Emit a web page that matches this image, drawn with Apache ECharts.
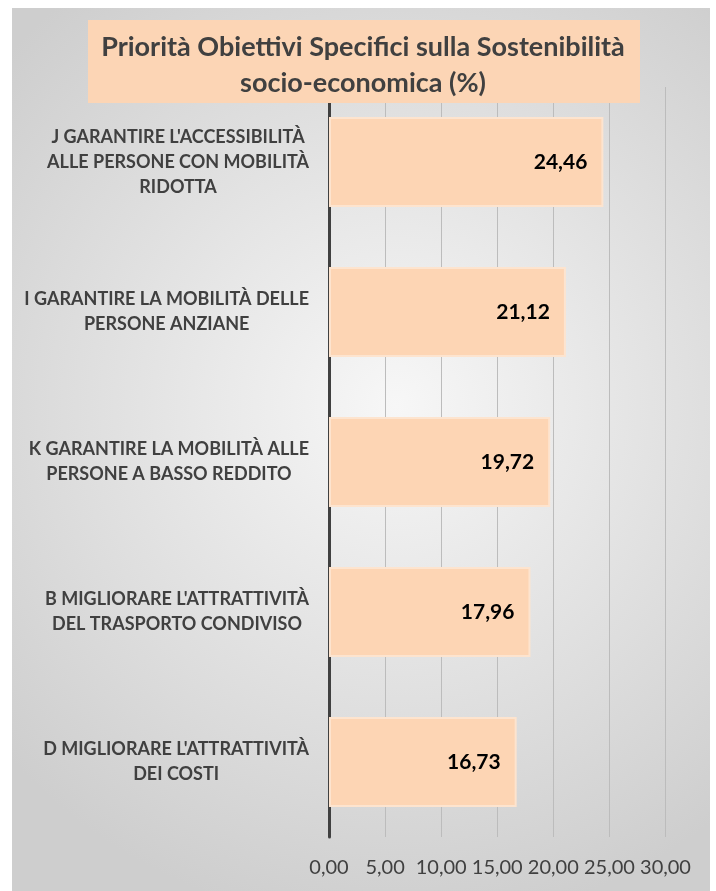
<!DOCTYPE html>
<html>
<head>
<meta charset="utf-8">
<script src="https://cdn.jsdelivr.net/npm/echarts@6/dist/echarts.min.js"></script>
<style>
  html, body { margin: 0; padding: 0; background: #fff; }
  #chart { width: 716px; height: 891px; }
</style>
</head>
<body>
<div id="chart"></div>
<script>
// dati del grafico
var categorie = [
    "J GARANTIRE L'ACCESSIBILITÀ\nALLE PERSONE CON MOBILITÀ\nRIDOTTA",
    "I GARANTIRE LA MOBILITÀ DELLE\nPERSONE ANZIANE",
    "K GARANTIRE LA MOBILITÀ ALLE\nPERSONE A BASSO REDDITO",
    "B MIGLIORARE L'ATTRATTIVITÀ\nDEL TRASPORTO CONDIVISO",
    "D MIGLIORARE L'ATTRATTIVITÀ\nDEI COSTI"
];
var valori = [24.46, 21.12, 19.72, 17.96, 16.73];
var titolo = "Priorità Obiettivi Specifici sulla Sostenibilità\nsocio-economica (%)";

var chart = echarts.init(document.getElementById('chart'));

function virgola(v, d) {
    return Number(v).toFixed(d).replace('.', ',');
}

var option = {
    animation: false,
    textStyle: { fontFamily: 'Lato' },
    // sfondo con gradiente e riquadro del titolo
    graphic: [
        {
            type: 'rect',
            z: -10,
            shape: { x: 12, y: 8, width: 698, height: 883 },
            style: {
                fill: new echarts.graphic.RadialGradient(0.55, 0.45, 0.75, [
                    { offset: 0, color: '#f7f7f7' },
                    { offset: 1, color: '#cecece' }
                ])
            }
        },
        {
            type: 'rect',
            z: 5,
            shape: { x: 88, y: 20, width: 552, height: 83 },
            style: { fill: '#fcd5b5' }
        }
    ],
    title: {
        text: titolo,
        left: 358,
        top: 24,
        textAlign: 'center',
        z: 6,
        textStyle: {
            fontFamily: 'Lato',
            fontWeight: 'bold',
            fontSize: 27,
            lineHeight: 36,
            color: '#404040'
        }
    },
    grid: {
        left: 329,
        right: 50.5,
        top: 87,
        bottom: 54
    },
    xAxis: {
        type: 'value',
        min: 0,
        max: 30,
        interval: 5,
        axisLine: { show: false },
        axisTick: { show: false },
        splitLine: { lineStyle: { color: '#bcbcbc', width: 1 } },
        axisLabel: {
            margin: 21,
            fontSize: 20,
            color: '#404040',
            fontFamily: 'Lato',
            formatter: function (v) { return virgola(v, 2); }
        }
    },
    yAxis: {
        type: 'category',
        inverse: true,
        data: categorie,
        axisLine: { lineStyle: { color: '#404040', width: 3 } },
        axisTick: { show: false },
        axisLabel: {
            margin: 20,
            align: 'right',
            // righe centrate dentro il blocco allineato a destra
            formatter: function (v) {
                return v.split('\n').map(function (r) { return '{c|' + r + '}'; }).join('\n');
            },
            rich: {
                c: {
                    align: 'center',
                    fontSize: 18,
                    fontWeight: 'bold',
                    lineHeight: 25,
                    color: '#404040',
                    fontFamily: 'Lato'
                }
            }
        }
    },
    series: [{
        type: 'bar',
        data: valori,
        barWidth: 90,
        itemStyle: {
            color: '#fdd5b4',
            borderColor: '#fde4cf',
            borderWidth: 2
        },
        label: {
            show: true,
            position: 'insideRight',
            distance: 16,
            fontSize: 21,
            fontWeight: 'bold',
            color: '#000',
            fontFamily: 'Lato',
            formatter: function (p) { return virgola(p.value, 2); }
        }
    }]
};

chart.setOption(option);
</script>
</body>
</html>
